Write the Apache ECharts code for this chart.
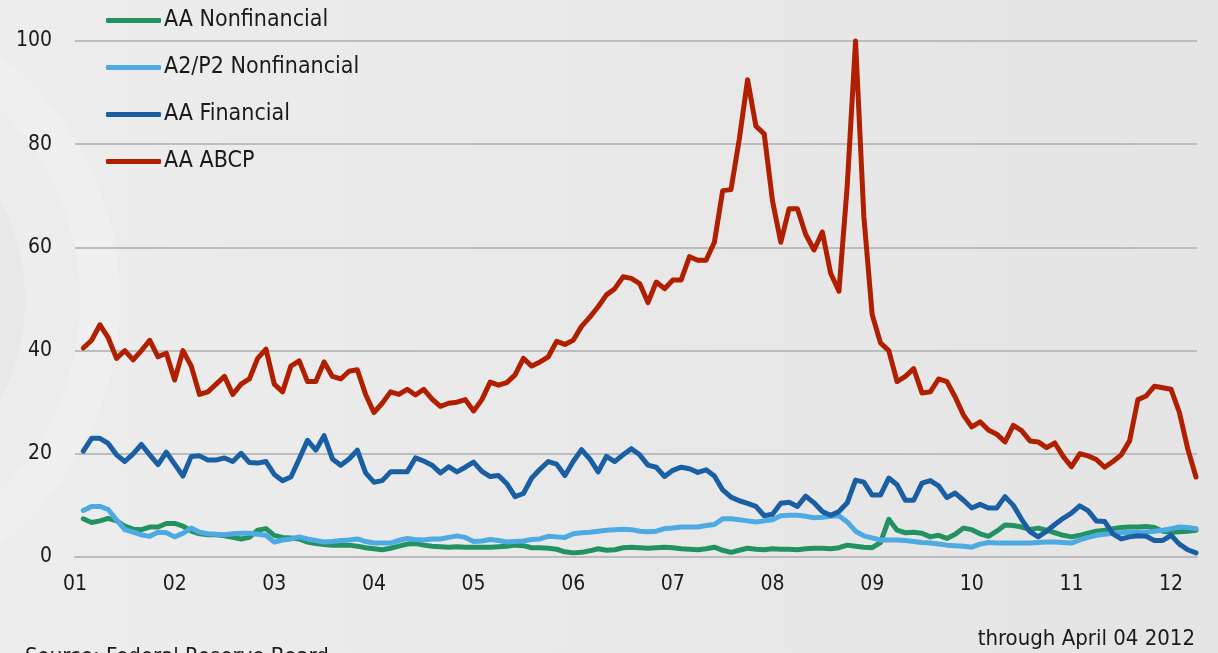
<!DOCTYPE html>
<html>
<head>
<meta charset="utf-8">
<script src="https://cdn.jsdelivr.net/npm/echarts@6/dist/echarts.min.js"></script>
<style>
  html, body { margin: 0; padding: 0; }
  #chart { width: 1218px; height: 653px; }
</style>
</head>
<body>
<div id="chart"></div>
<script>
// monthly readings, first point = end of Jan 2001, last = early Apr 2012
const seriesNames = ['AA Nonfinancial', 'A2/P2 Nonfinancial', 'AA Financial', 'AA ABCP'];

const aaNonfin = [
  7.4, 6.7, 7.0, 7.5, 7.0, 6.0, 5.4, 5.3, 5.8, 5.8, 6.5, 6.5,
  6.0, 5.0, 4.5, 4.3, 4.3, 4.1, 3.8, 3.5, 3.8, 5.2, 5.5, 4.2,
  3.8, 3.7, 3.5, 2.9, 2.6, 2.4, 2.3, 2.3, 2.3, 2.1, 1.8, 1.6,
  1.4, 1.7, 2.1, 2.5, 2.6, 2.3, 2.1, 2.0, 1.9, 2.0, 1.9, 1.9,
  1.9, 1.9, 2.0, 2.1, 2.3, 2.2, 1.8, 1.8, 1.7, 1.5, 1.0, 0.8,
  0.9, 1.2, 1.6, 1.3, 1.4, 1.8, 1.9, 1.8, 1.7, 1.8, 1.9, 1.8,
  1.6, 1.5, 1.4, 1.6, 1.9, 1.3, 0.9, 1.3, 1.7, 1.5, 1.4, 1.6,
  1.5, 1.5, 1.4, 1.6, 1.7, 1.7, 1.6, 1.8, 2.3, 2.1, 1.9, 1.8,
  2.8, 7.3, 5.2, 4.7, 4.8, 4.6, 3.9, 4.2, 3.6, 4.4, 5.6, 5.3,
  4.5, 4.0, 5.0, 6.2, 6.1, 5.8, 5.3, 5.6, 5.2, 4.7, 4.2, 3.9,
  4.2, 4.6, 5.0, 5.2, 5.5, 5.7, 5.8, 5.8, 5.9, 5.7, 5.0, 4.8,
  4.9, 5.0, 5.2
];

const a2p2Nonfin = [
  9.0, 9.8, 9.8, 9.2, 7.2, 5.3, 4.8, 4.3, 4.0, 4.8, 4.7, 3.9,
  4.6, 5.6, 4.8, 4.5, 4.4, 4.3, 4.5, 4.6, 4.6, 4.4, 4.2, 2.9,
  3.3, 3.5, 3.9, 3.5, 3.2, 2.9, 3.0, 3.2, 3.3, 3.5, 3.0, 2.7,
  2.7, 2.7, 3.2, 3.6, 3.4, 3.3, 3.5, 3.5, 3.8, 4.1, 3.8, 3.0,
  3.1, 3.4, 3.2, 2.9, 3.0, 3.1, 3.4, 3.5, 4.0, 3.9, 3.8, 4.5,
  4.7, 4.8, 5.0, 5.2, 5.3, 5.4, 5.3, 5.0, 4.9, 5.0, 5.5, 5.6,
  5.8, 5.8, 5.8, 6.1, 6.3, 7.4, 7.4, 7.2, 7.0, 6.8, 7.0, 7.2,
  8.0, 8.1, 8.1, 7.9, 7.6, 7.7, 7.9, 8.0, 6.8, 5.0, 4.1, 3.7,
  3.3, 3.3, 3.3, 3.2, 3.0, 2.8, 2.7, 2.5, 2.3, 2.2, 2.1, 1.9,
  2.5, 2.8, 2.7, 2.7, 2.7, 2.7, 2.7, 2.8, 2.9, 2.9, 2.8, 2.7,
  3.3, 3.8, 4.2, 4.4, 4.6, 4.7, 4.8, 4.8, 4.8, 5.0, 5.2, 5.5,
  5.8, 5.7, 5.5
];

const aaFin = [
  20.5, 23.0, 23.0, 22.0, 19.8, 18.5, 20.0, 21.8, 19.8, 17.9, 20.3, 18.0,
  15.7, 19.5, 19.6, 18.8, 18.8, 19.2, 18.5, 20.1, 18.3, 18.2, 18.5, 16.0,
  14.8, 15.5, 19.0, 22.6, 20.7, 23.5, 19.0, 17.8, 19.0, 20.7, 16.3, 14.5,
  14.8, 16.5, 16.5, 16.5, 19.2, 18.6, 17.8, 16.3, 17.5, 16.5, 17.4, 18.4,
  16.6, 15.6, 15.8, 14.2, 11.7, 12.3, 15.3, 17.0, 18.5, 18.0, 15.8, 18.5,
  20.8, 19.0, 16.5, 19.5, 18.5, 19.8, 21.0, 19.8, 17.8, 17.4, 15.6, 16.8,
  17.4, 17.1, 16.4, 16.9, 15.7, 13.0, 11.6, 10.9, 10.4, 9.8, 8.0, 8.3,
  10.4, 10.6, 9.8, 11.8, 10.5, 8.8, 8.1, 8.8, 10.5, 14.9, 14.5, 12.0,
  12.0, 15.3, 14.0, 11.0, 11.0, 14.3, 14.8, 13.8, 11.5, 12.4, 11.0, 9.5,
  10.2, 9.5, 9.5, 11.7, 10.0, 7.3, 4.9, 3.9, 5.0, 6.3, 7.5, 8.5,
  9.9, 9.0, 7.0, 6.9, 4.5, 3.5, 3.9, 4.1, 4.0, 3.2, 3.2, 4.2,
  2.5, 1.4, 0.8
];

const aaAbcp = [
  40.5, 42.0, 45.0, 42.5, 38.5, 40.0, 38.2, 40.0, 42.0, 38.8, 39.5, 34.3,
  40.0, 37.0, 31.5, 32.0, 33.5, 35.0, 31.5, 33.5, 34.5, 38.5, 40.3, 33.5,
  32.0, 37.0, 38.0, 34.0, 34.0, 37.8, 35.0, 34.5, 36.0, 36.3, 31.5, 28.0,
  29.8, 32.0, 31.5, 32.5, 31.4, 32.5, 30.6, 29.2, 29.8, 30.0, 30.5, 28.3,
  30.5, 33.9, 33.3, 33.8, 35.3, 38.5, 37.0, 37.8, 38.8, 41.8, 41.2, 42.0,
  44.7, 46.5, 48.5, 50.8, 52.0, 54.3, 54.0, 53.0, 49.3, 53.3, 52.0, 53.7,
  53.7, 58.2, 57.5, 57.5, 61.0, 71.0, 71.2, 81.0, 92.5, 83.5, 82.0, 69.0,
  61.0, 67.5, 67.5, 62.5, 59.5, 63.0, 55.0, 51.5, 72.0, 100.0, 66.0, 47.0,
  41.5, 40.0, 34.0, 35.0, 36.5, 31.8, 32.0, 34.5, 34.0, 31.0, 27.5, 25.2,
  26.2, 24.6, 23.8, 22.3, 25.5, 24.5, 22.5, 22.3, 21.2, 22.1, 19.5, 17.5,
  20.0, 19.6, 18.9, 17.4, 18.5, 19.8, 22.5, 30.5, 31.2, 33.1, 32.8, 32.5,
  28.0, 21.0, 15.5
];

const seriesColors = ['#239262', '#4eaae2', '#1a5fa4', '#b01f00'];

// x position of each reading in years (month end after Jan 2001)
const dates = aaAbcp.map((_, i) => 2001 + (i + 1) / 12);

function pairs(vals) {
  return vals.map((v, i) => [dates[i], v]);
}

const txt = '#1a1a1a';
const fontFam = '"DejaVu Sans Condensed", "DejaVu Sans", sans-serif';

const chart = echarts.init(document.getElementById('chart'));

chart.setOption({
  animation: false,
  backgroundColor: {
    type: 'linear', x: 0, y: 0, x2: 1, y2: 0,
    colorStops: [
      { offset: 0, color: '#ededed' },
      { offset: 1, color: '#e4e4e4' }
    ]
  },
  textStyle: { fontFamily: fontFam },
  graphic: [
    {
      type: 'circle',
      shape: { cx: -190, cy: 300, r: 290 },
      style: { fill: 'none', stroke: 'rgba(255,255,255,0.18)', lineWidth: 40 },
      silent: true, z: -10
    },
    {
      type: 'circle',
      shape: { cx: -190, cy: 300, r: 200 },
      style: { fill: 'none', stroke: 'rgba(210,210,210,0.18)', lineWidth: 30 },
      silent: true, z: -10
    },
    {
      type: 'text',
      left: 25, top: 646,
      style: { text: 'Source: Federal Reserve Board', fill: txt, font: '22px ' + fontFam },
      silent: true
    },
    {
      type: 'text',
      right: 23, top: 628,
      style: { text: 'through April 04 2012', fill: txt, font: '22px ' + fontFam },
      silent: true
    }
  ],
  legend: {
    orient: 'vertical',
    left: 106,
    top: 9,
    padding: 0,
    itemWidth: 55,
    itemHeight: 5,
    itemGap: 24,
    icon: 'roundRect',
    textStyle: { color: txt, fontSize: 23, fontFamily: fontFam, padding: [0, 0, 0, -2] },
    data: seriesNames
  },
  grid: { left: 75, right: 21, top: 41, bottom: 96, containLabel: false },
  xAxis: {
    type: 'value',
    min: 2001,
    max: 2012.26,
    interval: 1,
    axisLine: { show: true, lineStyle: { color: '#bdbdbd', width: 2 } },
    axisTick: { show: false },
    splitLine: { show: false },
    axisLabel: {
      color: txt, fontSize: 21, fontFamily: fontFam, margin: 17,
      showMaxLabel: false,
      formatter: function (v) {
        if (Math.abs(v - Math.round(v)) > 1e-6) return '';
        return String(Math.round(v) % 100).padStart(2, '0');
      }
    }
  },
  yAxis: {
    type: 'value',
    min: 0,
    max: 100,
    interval: 20,
    axisLine: { show: false },
    axisTick: { show: false },
    splitLine: { lineStyle: { color: '#bdbdbd', width: 2 } },
    axisLabel: { color: txt, fontSize: 21, fontFamily: fontFam, margin: 23 }
  },
  series: [aaNonfin, a2p2Nonfin, aaFin, aaAbcp].map((vals, i) => ({
    name: seriesNames[i],
    type: 'line',
    data: pairs(vals),
    showSymbol: false,
    clip: false,
    color: seriesColors[i],
    lineStyle: { width: 5, color: seriesColors[i], join: 'round', cap: 'round' }
  }))
});
</script>
</body>
</html>
